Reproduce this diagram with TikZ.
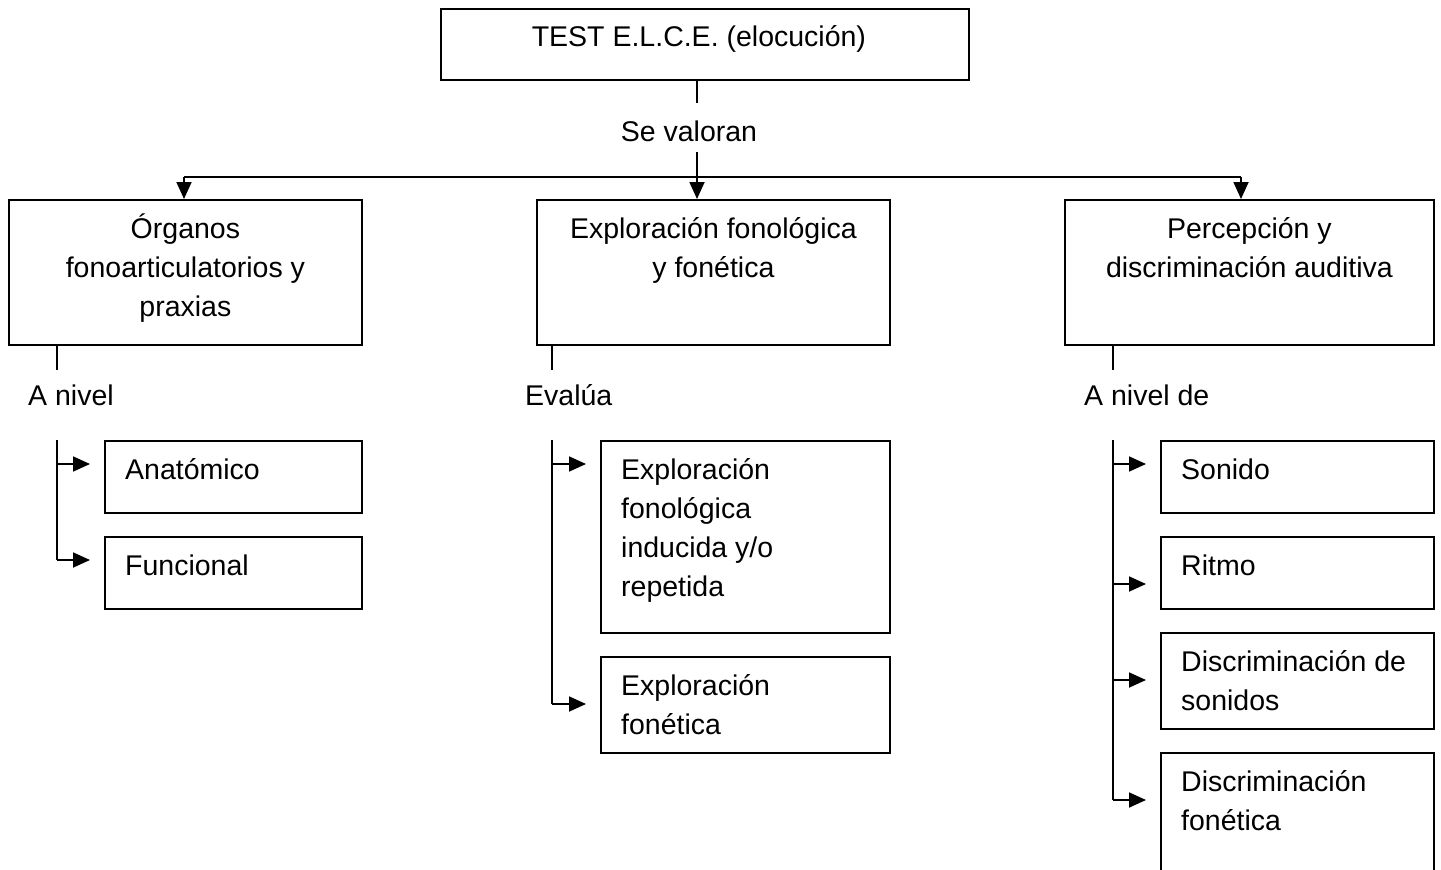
\documentclass[tikz,border=0pt]{standalone}
\usepackage{fontspec}
\setmainfont{Liberation Sans}
\usetikzlibrary{arrows.meta,calc}
\newcommand\diagfs{\fontsize{28.5}{39}\selectfont}
\begin{document}
\begin{tikzpicture}[x=1pt,y=-1pt,
  box/.style={draw, line width=1.8pt, inner sep=0, anchor=north west},
  ctxt/.style={font=\diagfs, inner sep=0, anchor=north, align=center},
  ltxt/.style={font=\diagfs, inner sep=0, anchor=north west, align=left},
  conn/.style={line width=1.8pt},
  arr/.style={line width=1.8pt, -{Triangle[length=17pt,width=15pt]}},
  sarr/.style={arr, shorten >=14pt}]
\useasboundingbox (0,0) rectangle (1441,870);
\clip (0,0) rectangle (1441,870);
% top box
\node[box, minimum width=528pt, minimum height=71pt] (top) at (440,8) {};
\node[ctxt] (toptxt) at ($(top.north)+(-6,10.7)$) {\strut TEST E.L.C.E. (elocución)};
\coordinate (tb) at (697,79);
\draw[conn] (tb) -- +(0,24);
\node[ctxt] (sev) at (689,113.7) {\strut Se valoran};
% main boxes
\node[box, minimum width=353pt, minimum height=145pt] (b1) at (8,199) {};
\node[box, minimum width=353pt, minimum height=145pt] (b2) at (536,199) {};
\node[box, minimum width=369pt, minimum height=145pt] (b3) at (1064,199) {};
\node[ctxt] (b1t) at ($(b1.north)+(0,11.7)$) {\strut Órganos\\fonoarticulatorios y\\praxias};
\node[ctxt] (b2t) at ($(b2.north)+(0,11.7)$) {\strut Exploración fonológica\\y fonética};
\node[ctxt] (b3t) at ($(b3.north)+(0,11.7)$) {\strut Percepción y\\discriminación auditiva};
% distribution
\coordinate (hl) at (184,177);
\coordinate (hr) at (1241,177);
\coordinate (hs) at (697,152);
\draw[conn] (hl) -- (hr);
\draw[arr] (hl) -- (hl |- b1.north);
\draw[arr] (hr) -- (hr |- b3.north);
\draw[arr] (hs) -- (hs |- b2.north);
% stubs under boxes
\draw[conn] ($(b1.south west)+(49,0)$) -- +(0,24);
\draw[conn] ($(b2.south west)+(16,0)$) -- +(0,24);
\draw[conn] ($(b3.south west)+(49,0)$) -- +(0,24);
\node[ltxt] (l1) at (28,377.7) {\strut A nivel};
\node[ltxt] (l2) at (525,377.7) {\strut Evalúa};
\node[ltxt] (l3) at (1084,377.7) {\strut A nivel de};
% left branch
\node[box, minimum width=257pt, minimum height=72pt] (anat) at (104,440) {};
\node[box, minimum width=257pt, minimum height=72pt] (func) at (104,536) {};
\node[ltxt] (anatt) at ($(anat.north west)+(21,11.7)$) {\strut Anatómico};
\node[ltxt] (funct) at ($(func.north west)+(21,11.7)$) {\strut Funcional};
\coordinate (s1) at (57,440);
\coordinate (s1e) at (57,560);
\draw[conn] (s1) -- (s1e);
\draw[sarr] ($(s1)+(0,24)$) -- ($(anat.north west)+(0,24)$);
\draw[sarr] (s1e) -- ($(func.north west)+(0,24)$);
% middle branch
\node[box, minimum width=289pt, minimum height=192pt] (efi) at (600,440) {};
\node[box, minimum width=289pt, minimum height=96pt] (efo) at (600,656) {};
\node[ltxt] (efit) at ($(efi.north west)+(21,11.7)$) {\strut Exploración\\fonológica\\inducida y/o\\repetida};
\node[ltxt] (efot) at ($(efo.north west)+(21,11.7)$) {\strut Exploración\\fonética};
\coordinate (s2) at (552,440);
\coordinate (s2e) at (552,704);
\draw[conn] (s2) -- (s2e);
\draw[sarr] ($(s2)+(0,24)$) -- ($(efi.north west)+(0,24)$);
\draw[sarr] (s2e) -- ($(efo.north west)+(0,48)$);
% right branch
\node[box, minimum width=273pt, minimum height=72pt] (son) at (1160,440) {};
\node[box, minimum width=273pt, minimum height=72pt] (rit) at (1160,536) {};
\node[box, minimum width=273pt, minimum height=96pt] (dso) at (1160,632) {};
\node[box, minimum width=273pt, minimum height=150pt] (dfo) at (1160,752) {};
\node[ltxt] (sont) at ($(son.north west)+(21,11.7)$) {\strut Sonido};
\node[ltxt] (ritt) at ($(rit.north west)+(21,11.7)$) {\strut Ritmo};
\node[ltxt] (dsot) at ($(dso.north west)+(21,11.7)$) {\strut Discriminación de\\sonidos};
\node[ltxt] (dfot) at ($(dfo.north west)+(21,11.7)$) {\strut Discriminación\\fonética};
\coordinate (s3) at (1113,440);
\coordinate (s3e) at (1113,800);
\draw[conn] (s3) -- (s3e);
\draw[sarr] (1113,464) -- ($(son.north west)+(0,24)$);
\draw[sarr] (1113,584) -- ($(rit.north west)+(0,48)$);
\draw[sarr] (1113,680) -- ($(dso.north west)+(0,48)$);
\draw[sarr] (s3e) -- ($(dfo.north west)+(0,48)$);
\end{tikzpicture}
\end{document}
